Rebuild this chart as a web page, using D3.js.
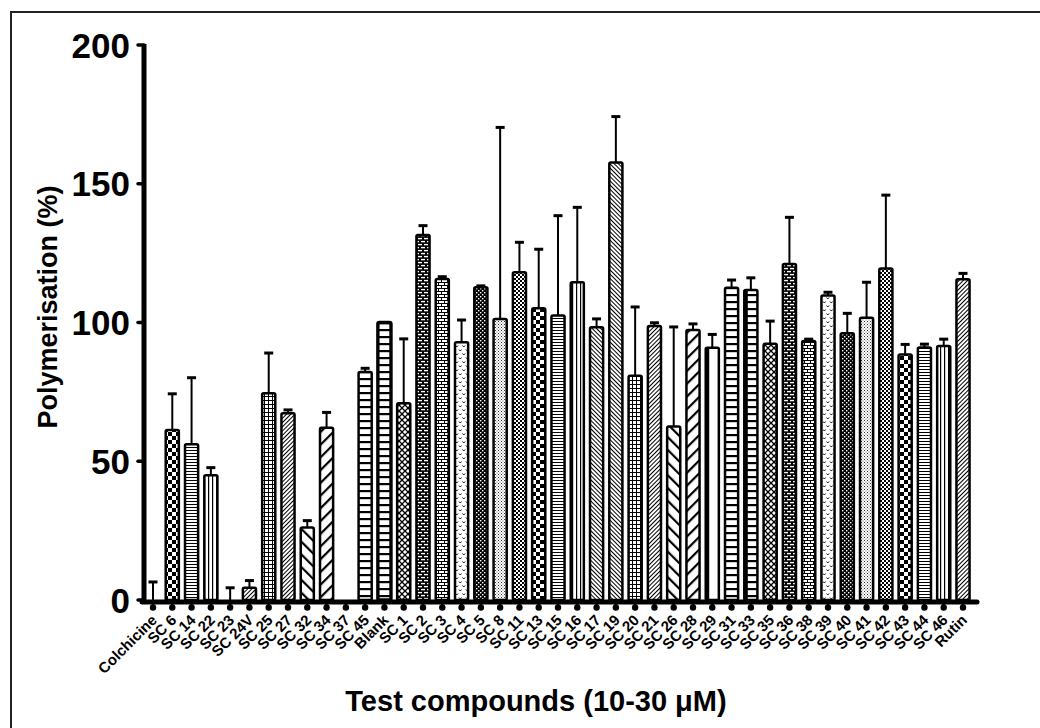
<!DOCTYPE html>
<html>
<head>
<meta charset="utf-8">
<script src="https://cdn.jsdelivr.net/npm/d3@7"></script>
<style>
  html, body { margin: 0; padding: 0; background: #fff; }
  svg { display: block; }
  text { font-family: "Liberation Sans", Arial, sans-serif; font-weight: bold; fill: #000; }
</style>
</head>
<body>
<svg id="chart" width="1040" height="728"></svg>
<script>
// ---- data ----
const categories = ["Colchicine","SC 6","SC 14","SC 22","SC 23","SC 24V","SC 25","SC 27","SC 32","SC 34","SC 37","SC 45","Blank",
  "SC 1","SC 2","SC 3","SC 4","SC 5","SC 8","SC 11","SC 13","SC 15","SC 16","SC 17","SC 19","SC 20","SC 21","SC 26","SC 28",
  "SC 29","SC 31","SC 33","SC 35","SC 36","SC 38","SC 39","SC 40","SC 41","SC 42","SC 43","SC 44","SC 46","Rutin"];
const values = [0, 61.3, 56.1, 45.0, 0, 4.4, 74.5, 67.3, 26.1, 62.1, 0, 82.2, 100.0,
  70.9, 131.5, 115.7, 92.9, 112.7, 101.3, 118.1, 105.1, 102.5, 114.5, 98.3, 157.7, 80.8, 98.7, 62.5, 97.3,
  90.9, 112.5, 111.7, 92.3, 121.1, 93.3, 109.7, 96.1, 101.7, 119.5, 88.5, 91.0, 91.5, 115.6];
const errors = [6.5, 13.0, 24.0, 2.7, 4.4, 2.6, 14.5, 1.2, 2.5, 5.5, 0, 1.3, 0,
  23.2, 3.4, 0.8, 8.0, 0.5, 69.0, 10.8, 21.3, 36.0, 27.0, 3.0, 16.5, 24.8, 1.2, 35.9, 2.2,
  4.8, 2.8, 4.4, 8.2, 16.8, 0.7, 1.2, 7.2, 12.8, 26.4, 3.6, 1.2, 2.5, 2.1];
const yTicks = [0, 50, 100, 150, 200];
const yLabel = "Polymerisation (%)";
const xLabel = "Test compounds (10-30 μM)";

// ---- styles (fill pattern per bar) ----
const fills = ["checker","checker","hlines","vlines","diagF","diagF","grid","diagF","diagWB","diagWF","ladder","ladder","ladder",
  "diamond","brickD","brickL","vdots","darkDots","stipple","smallCheck","checker","hlines","vlines","diagFB","diagFB","grid","diagF","diagWB","diagWF",
  "white","ladder","ladder","diamond","brickD","brickL","vdots","darkDots","stipple","smallCheck","checker","hlines","vlines","diagF"];
const thickLeft = new Set(["SC 29","SC 33"]);

const svg = d3.select("#chart");
const defs = svg.append("defs");
function pat(id, w, h, bg, draw, transform) {
  const p = defs.append("pattern").attr("id", id).attr("patternUnits", "userSpaceOnUse")
    .attr("width", w).attr("height", h);
  if (transform) p.attr("patternTransform", transform);
  p.append("rect").attr("width", w).attr("height", h).attr("fill", bg);
  draw(p);
}
const R = (p, x, y, w, h, c) => p.append("rect").attr("x", x).attr("y", y).attr("width", w).attr("height", h).attr("fill", c || "#000");
pat("checker", 8, 8, "#fff", p => { R(p,0,0,4,4); R(p,4,4,4,4); });
pat("smallCheck", 4, 4, "#fff", p => { R(p,0,0,2,2); R(p,2,2,2,2); });
pat("hlines", 4, 3, "#fff", p => { R(p,0,0,4,1); });
pat("vlines", 4, 4, "#fff", p => { R(p,0,0,1.2,4); });
pat("grid", 4, 4, "#fff", p => { R(p,0,0,4,1); R(p,0,0,1,4); });
pat("diagF", 3, 3, "#fff", p => { R(p,0,0,1,3); }, "rotate(45)");
pat("diagFB", 3, 3, "#fff", p => { R(p,0,0,1,3); }, "rotate(-45)");
pat("diagWB", 9, 9, "#fff", p => { R(p,0,0,2.2,9); }, "rotate(-45)");
pat("diagWF", 9, 9, "#fff", p => { R(p,0,0,2.2,9); }, "rotate(45)");
pat("ladder", 4, 7, "#fff", p => { R(p,0,0,4,2.2); });
pat("diamond", 6, 6, "#fff", p => { p.append("path").attr("d","M0,0L6,6M6,0L0,6").attr("stroke","#000").attr("stroke-width",1.3); });
pat("brickD", 6, 6, "#000", p => { R(p,1,0.9,4,1.4,"#fff"); R(p,-2,3.9,4,1.4,"#fff"); R(p,4,3.9,4,1.4,"#fff"); });
pat("brickL", 6, 6, "#fff", p => { R(p,0,0,6,1); R(p,0,3,6,1); R(p,0,0,1,3); R(p,3,3,1,3); });
pat("vdots", 7, 8, "#fff", p => {
  p.append("path").attr("d","M0.5,1.5L1.8,3L3.1,1.5M4,5.5L5.3,7L6.6,5.5").attr("fill","none").attr("stroke","#000").attr("stroke-width",0.9);
});
pat("darkDots", 4, 4, "#000", p => { R(p,0,0,1.4,1.4,"#fff"); R(p,2,2,1.4,1.4,"#fff"); });
pat("stipple", 3, 3, "#fff", p => { R(p,0,0,1,1,"#333"); R(p,1.5,1.5,1,1,"#666"); });
pat("white", 4, 4, "#fff", p => {});

// ---- scales ----
const x = d3.scalePoint().domain(categories).range([153, 963]);
const y = d3.scaleLinear().domain([0, 200]).range([600, 45]);
const bw = x.step() * 0.68;

// frame
svg.append("rect").attr("x", 11).attr("y", 12).attr("width", 1200).attr("height", 900)
  .attr("fill", "none").attr("stroke", "#222").attr("stroke-width", 2);

// bars
const g = svg.append("g");
categories.forEach((c, i) => {
  const v = values[i];
  const cx = x(c);
  if (v > 0) {
    g.append("rect").attr("x", cx - bw / 2).attr("y", y(v)).attr("width", bw).attr("height", y(0) - y(v))
      .attr("rx", 1.5).attr("fill", `url(#${fills[i]})`).attr("stroke", "#000")
      .attr("stroke-width", c === "Blank" ? 3.4 : 2.5);
    if (thickLeft.has(c)) {
      g.append("line").attr("x1", cx - bw / 2 + 1.5).attr("x2", cx - bw / 2 + 1.5)
        .attr("y1", y(v)).attr("y2", y(0)).attr("stroke", "#000").attr("stroke-width", 4);
    }
  }
  const e = errors[i];
  if (e > 0.3) {
    g.append("line").attr("x1", cx).attr("x2", cx).attr("y1", y(v)).attr("y2", y(v + e))
      .attr("stroke", "#000").attr("stroke-width", 2);
    g.append("line").attr("x1", cx - 4.5).attr("x2", cx + 4.5).attr("y1", y(v + e)).attr("y2", y(v + e))
      .attr("stroke", "#000").attr("stroke-width", 3);
  } else if (e > 0) {
    g.append("line").attr("x1", cx - 4.5).attr("x2", cx + 4.5).attr("y1", y(v + e) - 1).attr("y2", y(v + e) - 1)
      .attr("stroke", "#000").attr("stroke-width", 2.5);
  }
});

// y axis
const ax = 144;
svg.append("line").attr("x1", ax).attr("x2", ax).attr("y1", y(200) - 1).attr("y2", y(0) + 4)
  .attr("stroke", "#000").attr("stroke-width", 5);
yTicks.forEach(t => {
  svg.append("line").attr("x1", ax).attr("x2", 138).attr("y1", y(t)).attr("y2", y(t))
    .attr("stroke", "#000").attr("stroke-width", 3.5).attr("stroke-linecap", "round");
  svg.append("text").attr("x", 130).attr("y", y(t)).attr("dy", "0.36em").attr("text-anchor", "end")
    .attr("font-size", 35).text(t);
});

// x axis
svg.append("line").attr("x1", ax - 2).attr("x2", 977).attr("y1", 602).attr("y2", 602)
  .attr("stroke", "#000").attr("stroke-width", 5).attr("stroke-linecap", "round");
categories.forEach(c => {
  const cx = x(c);
  svg.append("line").attr("x1", cx).attr("x2", cx).attr("y1", 602).attr("y2", 607)
    .attr("stroke", "#000").attr("stroke-width", 2.5);
  svg.append("circle").attr("cx", cx).attr("cy", 607.5).attr("r", 3.2).attr("fill", "#000");
  svg.append("text").attr("transform", `translate(${cx + 5},621) rotate(-45)`)
    .attr("text-anchor", "end").attr("font-size", 15).text(c);
});

// axis titles
svg.append("text").attr("transform", "translate(57,307) rotate(-90)").attr("text-anchor", "middle")
  .attr("font-size", 27).text(yLabel);
svg.append("text").attr("x", 536).attr("y", 711).attr("text-anchor", "middle")
  .attr("font-size", 29).text(xLabel);
</script>
</body>
</html>
